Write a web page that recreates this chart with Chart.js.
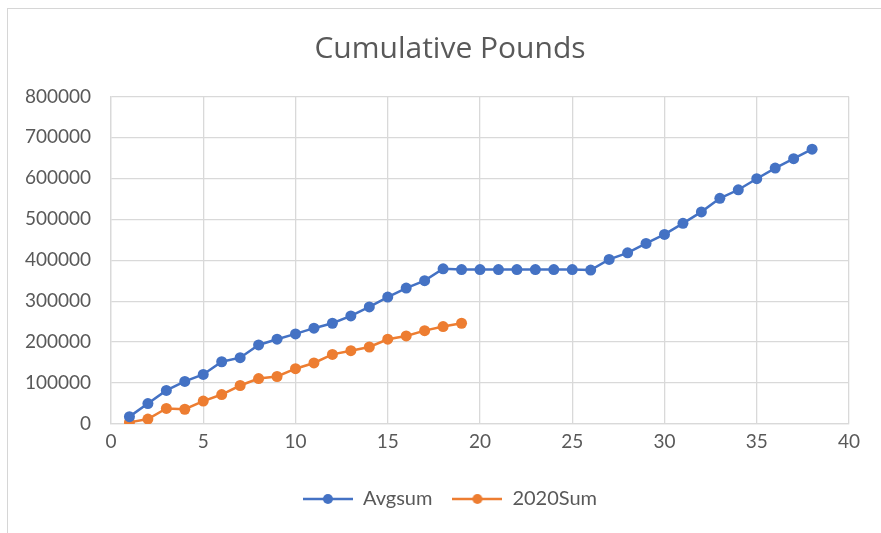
<!DOCTYPE html>
<html>
<head>
<meta charset="utf-8">
<script src="https://cdn.jsdelivr.net/npm/chart.js@4"></script>
<style>
  body { margin: 0; background: #fff; }
  #wrap { position: relative; width: 881px; height: 533px; overflow: hidden; }
  #frame { position: absolute; left: 7px; top: 8px; width: 900px; height: 600px; border: 1px solid #d6d6d6; }
  #chart { position: absolute; left: 0; top: 0; }
</style>
</head>
<body>
<div id="wrap">
  <div id="frame"></div>
  <canvas id="chart" width="881" height="533"></canvas>
</div>
<script>
const weeks = [1,2,3,4,5,6,7,8,9,10,11,12,13,14,15,16,17,18,19,20,21,22,23,24,25,26,27,28,29,30,31,32,33,34,35,36,37,38];
const avgsum = [18000,50000,82000,104000,121000,152000,162000,193000,207000,220000,234000,246000,264000,286000,310000,332000,350000,379000,377000,377000,377000,377000,377000,377000,377000,376000,402000,418000,441000,463000,490000,518000,551000,572000,599000,625000,648000,671000];
const sum2020 = [4000,12000,38000,36000,56000,72000,94000,111000,116000,135000,149000,170000,179000,188000,207000,215000,228000,238000,246000];

const xTicks = [0,5,10,15,20,25,30,35,40];
const yTicks = [0,100000,200000,300000,400000,500000,600000,700000,800000];

const BLUE = "#4472C4";
const ORANGE = "#ED7D31";
const TEXT = "#595959";
const FONT = "Lato, 'Open Sans', sans-serif";

function pts(xs, ys) {
  return ys.map((v, i) => ({ x: xs[i], y: v }));
}

// legend marker: line with a dot, like the office style
function marker(color) {
  const c = document.createElement("canvas");
  c.width = 50; c.height = 12;
  const g = c.getContext("2d");
  g.strokeStyle = color;
  g.lineWidth = 2.5;
  g.beginPath(); g.moveTo(0, 6); g.lineTo(50, 6); g.stroke();
  g.fillStyle = color;
  g.beginPath(); g.arc(25, 6, 5, 0, Math.PI * 2); g.fill();
  return c;
}

const ctx = document.getElementById("chart");
new Chart(ctx, {
  type: "line",
  data: {
    datasets: [
      { label: "Avgsum", data: pts(weeks, avgsum), borderColor: BLUE, backgroundColor: BLUE,
        borderWidth: 2.5, pointRadius: 5.5, pointBorderWidth: 0, tension: 0 },
      { label: "2020Sum", data: pts(weeks, sum2020), borderColor: ORANGE, backgroundColor: ORANGE,
        borderWidth: 2.5, pointRadius: 5.5, pointBorderWidth: 0, tension: 0 }
    ]
  },
  options: {
    responsive: false,
    animation: false,
    // negative right padding + empty right axis: title and legend centre a bit right, like the original
    layout: { padding: { left: 10, right: -9, top: 10, bottom: 14 } },
    plugins: {
      title: {
        display: true, text: "Cumulative Pounds", color: TEXT,
        font: { family: "'Open Sans', Lato, sans-serif", size: 30, weight: "normal" },
        padding: { top: 21, bottom: 29.4 }
      },
      legend: {
        position: "bottom",
        labels: {
          color: TEXT, font: { family: FONT, size: 20 },
          usePointStyle: true, pointStyleWidth: 50, boxHeight: 12, padding: 20,
          generateLabels: (chart) => chart.data.datasets.map((d, i) => ({
            text: d.label, pointStyle: marker(d.borderColor), datasetIndex: i,
            fontColor: TEXT, lineWidth: 0, strokeStyle: d.borderColor, fillStyle: d.borderColor
          }))
        }
      },
      tooltip: { enabled: false }
    },
    scales: {
      x: {
        type: "linear", min: 0, max: 40,
        afterBuildTicks: (s) => { s.ticks = xTicks.map(v => ({ value: v })); },
        afterFit: (s) => { s.height = 45; },
        ticks: { color: TEXT, font: { family: FONT, size: 19 }, padding: 6 },
        grid: { color: "#d9d9d9", lineWidth: 1.3, drawTicks: false },
        border: { color: "#d9d9d9", width: 1.3 }
      },
      y: {
        min: 0, max: 800000,
        afterBuildTicks: (s) => { s.ticks = yTicks.map(v => ({ value: v })); },
        afterFit: (s) => { s.width = 101; },
        ticks: { color: TEXT, font: { family: FONT, size: 19 }, padding: 20, callback: (v) => String(v) },
        grid: { color: "#d9d9d9", lineWidth: 1.3, drawTicks: false },
        border: { color: "#d9d9d9", width: 1.3 }
      },
      pad: {
        type: "linear", position: "right",
        afterFit: (s) => { s.width = 41; },
        ticks: { display: false },
        grid: { display: false },
        border: { display: false }
      }
    }
  }
});
</script>
</body>
</html>
